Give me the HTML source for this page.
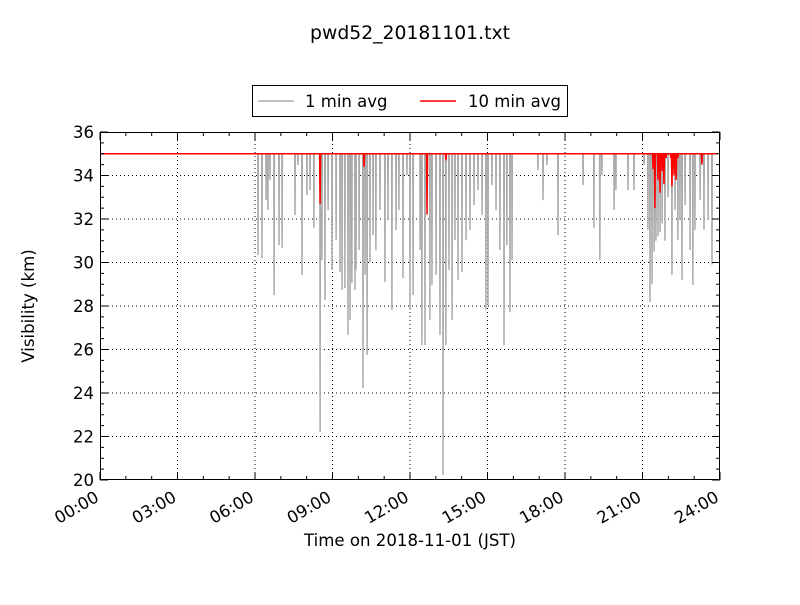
<!DOCTYPE html>
<html><head><meta charset="utf-8"><style>
body{margin:0;background:#fff;font-family:"Liberation Sans","DejaVu Sans",sans-serif}
svg text{font-family:"DejaVu Sans","Liberation Sans",sans-serif}
</style></head><body>
<svg id="c" width="800" height="600" xmlns="http://www.w3.org/2000/svg">
<rect width="800" height="600" fill="#fff"/>
<text x="410" y="39" font-size="18.8" text-anchor="middle">pwd52_20181101.txt</text>
<g id="grid"></g><g id="series"></g><g id="axes"></g>
<g>
<rect x="252.5" y="85.5" width="315" height="31" fill="#fff" stroke="#000"/>
<line x1="258" y1="101" x2="294" y2="101" stroke="#aaa" stroke-width="1.5"/>
<text x="305" y="107" font-size="16.5">1 min avg</text>
<line x1="420" y1="101" x2="456" y2="101" stroke="#f00" stroke-width="1.5"/>
<text x="468" y="107" font-size="16.5">10 min avg</text>
</g>
<text x="410" y="546" font-size="16.6" text-anchor="middle">Time on 2018-11-01 (JST)</text>
<text transform="translate(34,306) rotate(-90)" font-size="16.6" text-anchor="middle">Visibility (km)</text>
</svg>
<script>
const xTickHours=[0,3,6,9,12,15,18,21,24];
const xTickLabels=["00:00","03:00","06:00","09:00","12:00","15:00","18:00","21:00","24:00"];
const yTicks=[20,22,24,26,28,30,32,34,36];
const baseline=35;
const grayHours=[6.12,6.27,6.43,6.50,6.58,6.74,6.93,7.05,7.55,7.66,7.82,8.01,8.13,8.28,8.52,8.59,8.71,8.83,8.98,9.14,9.29,9.37,9.48,9.60,9.68,9.75,9.87,9.91,10.03,10.18,10.26,10.34,10.45,10.57,10.68,10.84,11.03,11.15,11.30,11.46,11.57,11.73,11.88,12.00,12.12,12.39,12.46,12.58,12.77,12.85,13.01,13.16,13.28,13.39,13.51,13.63,13.74,13.86,14.01,14.17,14.32,14.48,14.63,14.79,14.94,15.02,15.17,15.33,15.48,15.64,15.75,15.87,15.95,16.95,17.15,17.30,17.73,18.70,19.12,19.35,19.43,19.90,19.97,20.44,20.67,21.06,21.21,21.29,21.37,21.45,21.52,21.60,21.68,21.76,21.87,21.99,22.14,22.26,22.37,22.45,22.53,22.65,22.84,22.95,23.03,23.23,23.38,23.54,23.69];
const grayValues=[30.34,30.2,32.87,32.41,33.8,28.5,30.8,30.67,32.18,34.48,29.43,33.1,33.33,31.59,22.2,30.1,28.28,32.41,29.66,31.03,29.56,28.74,28.83,26.67,27.36,29.06,28.74,29.66,30.57,24.23,29.43,25.75,30.02,31.26,30.57,32.41,29.1,31.95,27.82,31.5,32.41,29.29,34.02,27.82,28.5,30.57,26.2,26.2,27.36,28.97,29.43,26.67,20.23,26.2,29.66,27.36,31.03,29.2,29.56,31.03,31.5,32.64,33.33,32.18,27.82,28.05,33.56,32.41,30.57,26.2,30.8,27.72,30.1,34.25,32.87,34.48,31.26,33.56,31.59,30.1,34.02,32.41,33.33,33.33,33.33,34.48,31.5,28.18,29.0,30.5,31.0,31.2,31.4,31.8,31.0,33.0,29.43,32.41,31.03,31.95,29.2,32.64,30.57,28.97,31.5,32.87,31.5,31.95,29.9];
const redHours=[8.52,10.22,12.66,13.39,21.41,21.48,21.6,21.68,21.76,21.83,21.91,22.1,22.14,22.22,22.3,22.37,23.3];
const redValues=[32.7,34.4,32.2,34.7,34.3,32.5,33.8,33.2,34.2,33.6,34.8,34.8,33.5,34.0,33.8,34.8,34.5];

const L=100,R=720,T=132,B=480;
const xs=h=>L+(h/24)*(R-L);
const ys=v=>B-(v-20)/16*(B-T);
const NS="http://www.w3.org/2000/svg";
function mk(tag,parent){const e=document.createElementNS(NS,tag);document.getElementById(parent).appendChild(e);return e;}

xTickHours.forEach(h=>{if(h>0&&h<24){const l=mk('line','grid');


l.setAttribute('x1',xs(h));l.setAttribute('x2',xs(h));l.setAttribute('y1',T);l.setAttribute('y2',B);l.setAttribute('stroke','#000');l.setAttribute('stroke-dasharray','1,3');}});
yTicks.forEach(v=>{if(v>20&&v<36){const l=mk('line','grid');


l.setAttribute('x1',L);l.setAttribute('x2',R);l.setAttribute('y1',ys(v));l.setAttribute('y2',ys(v));l.setAttribute('stroke','#000');l.setAttribute('stroke-dasharray','1,3');}});

let d=`M${xs(0)},${ys(baseline)}`;
const gi=grayHours.map((h,i)=>i).sort((a,b)=>grayHours[a]-grayHours[b]);
gi.forEach(i=>{const h=grayHours[i];d+=` L${xs(h-0.01)},${ys(baseline)} L${xs(h)},${ys(grayValues[i])} L${xs(h+0.01)},${ys(baseline)}`;});
d+=` L${xs(23.9)},${ys(baseline)}`;
const g=mk('path','series');


g.setAttribute('d',d);g.setAttribute('fill','none');g.setAttribute('stroke','#aaa');g.setAttribute('stroke-width','1.5');

let rd=`M${xs(0)},${ys(baseline)}`;
redHours.forEach((h,i)=>{rd+=` L${xs(h-0.02)},${ys(baseline)} L${xs(h)},${ys(redValues[i])} L${xs(h+0.02)},${ys(baseline)}`;});
rd+=` L${xs(23.9)},${ys(baseline)}`;
const r=mk('path','series');


r.setAttribute('d',rd);r.setAttribute('fill','none');r.setAttribute('stroke','#f00');r.setAttribute('stroke-width','1.5');

const fr=mk('rect','axes');


fr.setAttribute('x',L+0.5);fr.setAttribute('y',T+0.5);fr.setAttribute('width',R-L-1);fr.setAttribute('height',B-T-1);fr.setAttribute('fill','none');fr.setAttribute('stroke','#000');

for(let h=0;h<=24;h++){const major=h%3===0;const len=major?8:4;const x=xs(h);
[[B,B-len],[T,T+len]].forEach(p=>{const l=mk('line','axes');


l.setAttribute('x1',x);l.setAttribute('x2',x);l.setAttribute('y1',p[0]);l.setAttribute('y2',p[1]);l.setAttribute('stroke','#000');});}
for(let v=20;v<=36;v+=0.5){const major=v%2===0;const len=major?8:4;const y=ys(v);
[[L,L+len],[R,R-len]].forEach(p=>{const l=mk('line','axes');


l.setAttribute('x1',p[0]);l.setAttribute('x2',p[1]);l.setAttribute('y1',y);l.setAttribute('y2',y);l.setAttribute('stroke','#000');});}
yTicks.forEach(v=>{const t=mk('text','axes');


t.setAttribute('x',L-6);t.setAttribute('y',ys(v)+6);t.setAttribute('text-anchor','end');t.setAttribute('font-size','16.5');t.textContent=v;});
xTickHours.forEach((h,i)=>{const t=mk('text','axes');


const x=xs(h)-6,y=B+10;
t.setAttribute('transform',`translate(${x},${y}) rotate(-30)`);t.setAttribute('text-anchor','end');t.setAttribute('font-size','16.5');t.setAttribute('dominant-baseline','hanging');t.textContent=xTickLabels[i];});
</script>
</body></html>
